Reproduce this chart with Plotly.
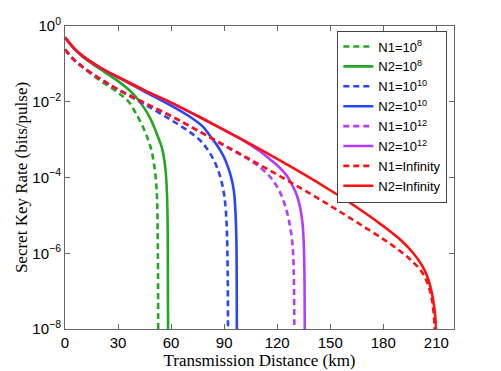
import plotly.graph_objects as go

# distances (km) and key rates (bits/pulse)
d_n2_inf = [0, 5, 10, 20, 30, 45, 60, 75, 90, 105, 120, 135, 150, 165, 180, 190, 197, 202, 205, 207, 208.5, 209.5, 210]
r_n2_inf = [0.50, 0.26, 0.16, 0.079, 0.045, 0.020, 9.5e-3, 4.2e-3, 1.8e-3, 7.6e-4, 3.1e-4, 1.22e-4, 4.6e-5,
            1.64e-5, 5.2e-6, 2.2e-6, 1.0e-6, 4.7e-7, 2.35e-7, 1.12e-7, 4.8e-8, 1.9e-8, 8e-9]

d_n1_inf = [0, 5, 10, 20, 30, 45, 60, 75, 90, 105, 120, 135, 150, 165, 180, 190, 197, 202, 205, 207, 208.3, 209.0, 209.4]
r_n1_inf = [0.24, 0.13, 0.083, 0.040, 0.021, 9.3e-3, 4.2e-3, 1.74e-3, 7.2e-4, 2.95e-4, 1.19e-4, 4.7e-5, 1.8e-5,
            6.6e-6, 2.35e-6, 1.1e-6, 5.75e-7, 3.1e-7, 1.6e-7, 7.9e-8, 3.2e-8, 1.26e-8, 5e-9]

d_n1_8 = [0, 5, 10, 20, 30, 36, 40, 44, 47, 49, 50.5, 51.5, 52.1, 52.4, 52.6, 52.7]
r_n1_8 = [0.24, 0.13, 0.081, 0.036, 0.0174, 0.010, 5.0e-3, 2.2e-3, 1.0e-3, 5.0e-4, 2.0e-4, 7.9e-5, 2.5e-5,
          4.0e-6, 3.2e-7, 6.3e-9]

d_n2_8 = [0, 5, 10, 20, 30, 37, 42, 45.3, 48, 51, 53, 54.7, 56.2, 57.2, 57.8, 58.1, 58.3]
r_n2_8 = [0.50, 0.26, 0.155, 0.072, 0.035, 0.019, 0.0105, 6.3e-3, 3.8e-3, 1.86e-3, 1.05e-3, 6.3e-4, 2.8e-4,
          1.0e-4, 2.5e-5, 3.2e-6, 6.3e-9]

d_n1_10 = [0, 5, 10, 20, 30, 45, 60, 70, 76, 80, 84, 86.5, 88.5, 90, 91, 91.6, 92, 92.2]
r_n1_10 = [0.24, 0.13, 0.083, 0.040, 0.021, 8.5e-3, 3.3e-3, 1.66e-3, 1.0e-3, 6.0e-4, 3.0e-4, 1.6e-4, 7.9e-5,
           3.5e-5, 1.26e-5, 3.2e-6, 3.2e-7, 6.3e-9]

d_n2_10 = [0, 5, 10, 20, 30, 45, 60, 70, 78, 82, 86, 89.6, 92, 94, 95.5, 96.4, 96.9, 97.1, 97.2]
r_n2_10 = [0.50, 0.26, 0.16, 0.079, 0.044, 0.0186, 7.9e-3, 4.2e-3, 2.2e-3, 1.26e-3, 7.1e-4, 3.7e-4, 2.0e-4,
           1.0e-4, 4.5e-5, 1.26e-5, 2.5e-6, 3.2e-7, 6.3e-9]

d_n1_12 = [0, 5, 10, 20, 30, 45, 60, 75, 90, 100, 105, 110, 115, 118, 121.7, 124.5, 126.5, 128, 129, 129.5, 129.7]
r_n1_12 = [0.24, 0.13, 0.083, 0.040, 0.021, 9.3e-3, 4.2e-3, 1.74e-3, 6.9e-4, 3.8e-4, 2.75e-4, 1.9e-4, 1.17e-4,
           7.9e-5, 4.0e-5, 1.8e-5, 7.9e-6, 3.2e-6, 1.0e-6, 1.6e-7, 6.3e-9]

d_n2_12 = [0, 5, 10, 20, 30, 45, 60, 75, 90, 100, 110, 116, 120, 125.4, 128.5, 131, 133, 134.3, 135, 135.4, 135.6]
r_n2_12 = [0.50, 0.26, 0.16, 0.079, 0.045, 0.020, 9.5e-3, 4.2e-3, 1.78e-3, 1.0e-3, 5.0e-4, 3.0e-4, 2.1e-4,
           1.12e-4, 6.3e-5, 3.5e-5, 1.6e-5, 6.3e-6, 2.0e-6, 3.2e-7, 6.3e-9]

x_ticks = [0, 30, 60, 90, 120, 150, 180, 210]
y_ticks = [1, 1e-2, 1e-4, 1e-6, 1e-8]
y_labels = ["10<sup>0</sup>", "10<sup>−2</sup>", "10<sup>−4</sup>", "10<sup>−6</sup>", "10<sup>−8</sup>"]

green = "#22a822"
blue = "#2845ff"
purple = "#b43cff"
red = "#ff1010"

series = [
    (d_n1_8, r_n1_8, "N1=10<sup>8</sup>", green, "dash"),
    (d_n2_8, r_n2_8, "N2=10<sup>8</sup>", green, "solid"),
    (d_n1_10, r_n1_10, "N1=10<sup>10</sup>", blue, "dash"),
    (d_n2_10, r_n2_10, "N2=10<sup>10</sup>", blue, "solid"),
    (d_n1_12, r_n1_12, "N1=10<sup>12</sup>", purple, "dash"),
    (d_n2_12, r_n2_12, "N2=10<sup>12</sup>", purple, "solid"),
    (d_n1_inf, r_n1_inf, "N1=Infinity", red, "dash"),
    (d_n2_inf, r_n2_inf, "N2=Infinity", red, "solid"),
]

fig = go.Figure()
for xs, ys, name, col, dash in series:
    fig.add_trace(go.Scatter(x=xs, y=ys, name=name, mode="lines", line_shape="spline",
                             line=dict(color=col, width=2.6, dash="6px,4px" if dash == "dash" else "solid")))

# the page body adds an 8px offset, so margins are shifted to compensate
fig.update_layout(
    width=501, height=371,
    margin=dict(l=57, r=55, t=18, b=50, autoexpand=False),
    paper_bgcolor="white", plot_bgcolor="white",
    font=dict(family="Liberation Sans, Arial", size=15, color="black"),
    legend=dict(x=0.70, y=0.985, xanchor="left", yanchor="top", bgcolor="white",
                bordercolor="#444", borderwidth=1, font=dict(size=13), tracegroupgap=0,
                itemwidth=30),
    showlegend=True,
)
fig.update_xaxes(range=[0, 220], tickvals=x_ticks, ticks="inside", ticklen=5, tickcolor="#666",
                 showline=True, linecolor="#666", linewidth=1, mirror="ticks", showgrid=False, zeroline=False,
                 automargin=False,
                 title=dict(text="Transmission Distance (km)", standoff=0,
                            font=dict(family="Liberation Serif, Times New Roman", size=17)))
fig.update_yaxes(type="log", range=[-8, 0], tickvals=y_ticks, ticktext=y_labels, ticks="inside", ticklen=5,
                 tickcolor="#666", showline=True, linecolor="#666", linewidth=1, mirror="ticks", showgrid=False,
                 automargin=False,
                 title=dict(text="Secret Key Rate (bits/pulse)", standoff=0,
                            font=dict(family="Liberation Serif, Times New Roman", size=17)))

fig.write_html("out.html")
